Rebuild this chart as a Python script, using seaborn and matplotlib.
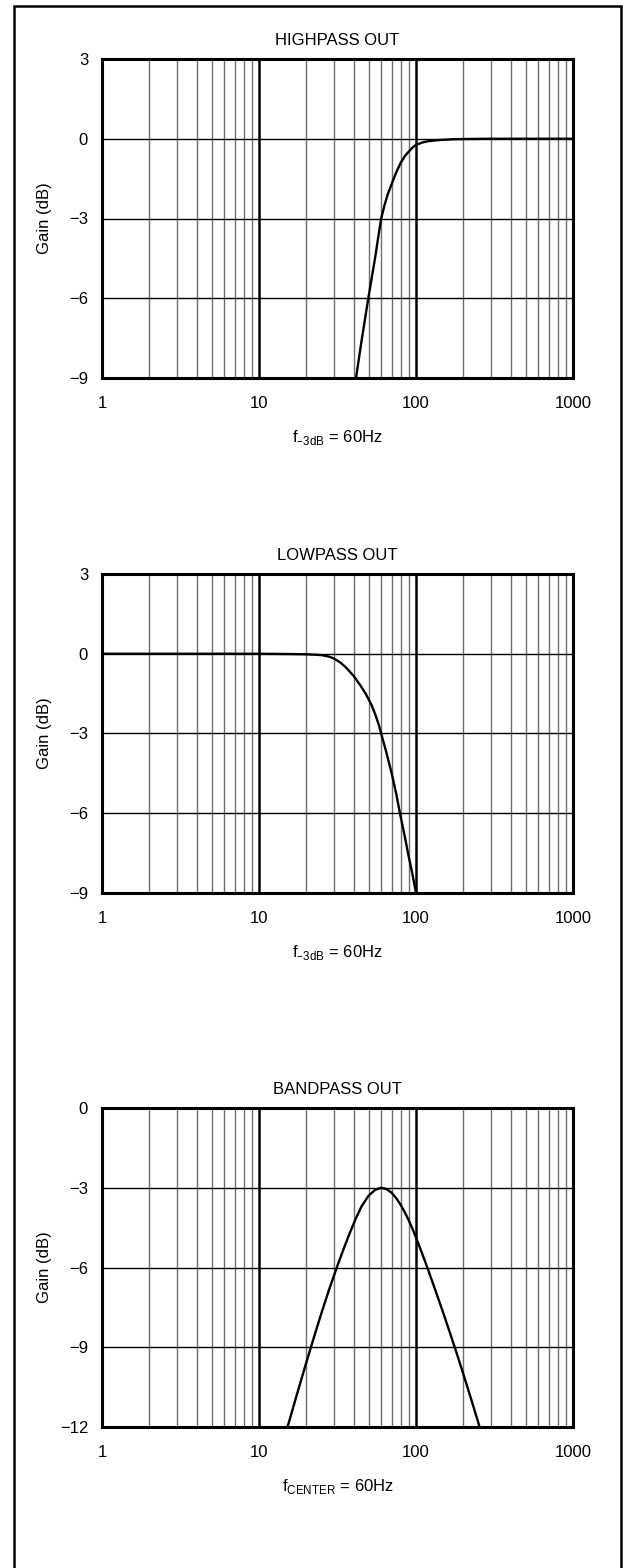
"""
filter gain plots: highpass, lowpass, bandpass
"""

import matplotlib
matplotlib.use("Agg")
import matplotlib.pyplot as plt
from matplotlib.patches import Rectangle
from matplotlib.ticker import FixedLocator, NullFormatter
import seaborn as sns
import pandas as pd

# values
hp_freq = [41.5, 45, 50, 55, 58, 60, 63, 66, 70, 75, 80, 85, 90, 95, 100, 110, 120, 140,
           170, 200, 300, 1000]
hp_gain = [-9.0, -7.6, -5.9, -4.45, -3.55, -3.0, -2.5, -2.1, -1.7, -1.25, -0.9, -0.65,
           -0.48, -0.33, -0.23, -0.14, -0.09, -0.05, -0.02, -0.01, 0.0, 0.0]

lp_freq = [1, 10, 15, 20, 25, 28, 30, 33, 36, 40, 44, 48, 52, 55, 58, 60, 65, 70, 75, 79,
           85, 90, 95, 100]
lp_gain = [0.0, 0.0, -0.01, -0.02, -0.05, -0.11, -0.18, -0.33, -0.53, -0.83, -1.17, -1.52,
           -1.92, -2.28, -2.68, -3.0, -3.75, -4.5, -5.3, -6.0, -6.9, -7.65, -8.3, -9.0]

bp_freq = [15.2, 17.5, 20, 22.5, 25, 28, 31.6, 35, 38, 41.5, 45, 50, 55, 60, 65, 70, 75, 80,
           85, 90, 95, 100, 110, 117, 130, 150, 165, 179, 200, 225, 253]
bp_gain = [-12.0, -10.74, -9.58, -8.58, -7.71, -6.82, -5.93, -5.22, -4.68, -4.14, -3.7,
           -3.29, -3.08, -3.0, -3.05, -3.19, -3.4, -3.65, -3.93, -4.23, -4.55, -4.87, -5.51,
           -5.94, -6.7, -7.75, -8.48, -9.11, -10.0, -10.97, -11.96]

titles = ["HIGHPASS OUT", "LOWPASS OUT", "BANDPASS OUT"]
xlabels = [r"f$_{\mathregular{–3dB}}$ = 60Hz", r"f$_{\mathregular{–3dB}}$ = 60Hz",
           r"f$_{\mathregular{CENTER}}$ = 60Hz"]
yticks = [[3, 0, -3, -6, -9], [3, 0, -3, -6, -9], [0, -3, -6, -9, -12]]
xticks = [1, 10, 100, 1000]
minor_x = [m * d for d in (1, 10, 100) for m in range(2, 10)]


def plotpanel(ax, freq, gain, title, xlabel, ticks):
    df = pd.DataFrame({"f": freq, "g": gain})
    ax.set_xscale("log")
    ax.set_xlim(1, 1000)
    ax.set_ylim(min(ticks), max(ticks))
    for x in minor_x:
        ax.axvline(x, color="#6e6e6e", lw=1.0, zorder=1)
    for x in xticks[1:-1]:
        ax.axvline(x, color="black", lw=1.8, zorder=1)
    for y in ticks[1:-1]:
        ax.axhline(y, color="black", lw=1.0, zorder=1)
    sns.lineplot(df, x="f", y="g", ax=ax, color="black", lw=1.7, sort=False, zorder=3)
    ax.xaxis.set_major_locator(FixedLocator(xticks))
    ax.xaxis.set_minor_locator(FixedLocator(minor_x))
    ax.xaxis.set_minor_formatter(NullFormatter())
    ax.set_xticks(xticks, ["1", "10", "100", "1000"])
    ax.set_yticks(ticks)
    ax.tick_params(axis="both", which="both", length=0, labelsize=12, labelcolor="black")
    ax.tick_params(axis="x", pad=13)
    ax.tick_params(axis="y", pad=10)
    ax.set_title(title, fontsize=12, pad=10, color="black")
    ax.set_xlabel(xlabel, fontsize=12, labelpad=12, color="black")
    ax.set_ylabel("Gain (dB)", fontsize=12, color="black")
    ax.yaxis.set_label_coords(-0.106, 0.5)
    for s in ax.spines.values():
        s.set_linewidth(2.2)
        s.set_color("black")
        s.set_zorder(4)


def main():
    sns.set_style("white")
    plt.rcParams["font.family"] = ["Liberation Sans", "DejaVu Sans"]
    plt.rcParams["text.color"] = "black"
    fig = plt.figure(figsize=(6.23, 15.68), dpi=100)
    left, width, height = 102 / 623, 471 / 623, 319 / 1568
    bottoms = [1 - 378 / 1568, 1 - 893 / 1568, 1 - 1427 / 1568]
    data = [(hp_freq, hp_gain), (lp_freq, lp_gain), (bp_freq, bp_gain)]
    for i, (freq, gain) in enumerate(data):
        ax = fig.add_axes([left, bottoms[i], width, height])
        plotpanel(ax, freq, gain, titles[i], xlabels[i], yticks[i])
    fig.add_artist(Rectangle((14 / 623, -0.01), 607 / 623, 1.01 - 6 / 1568,
                             transform=fig.transFigure, fill=False,
                             lw=1.8, edgecolor="black"))
    fig.savefig("out.png", dpi=100)


main()
